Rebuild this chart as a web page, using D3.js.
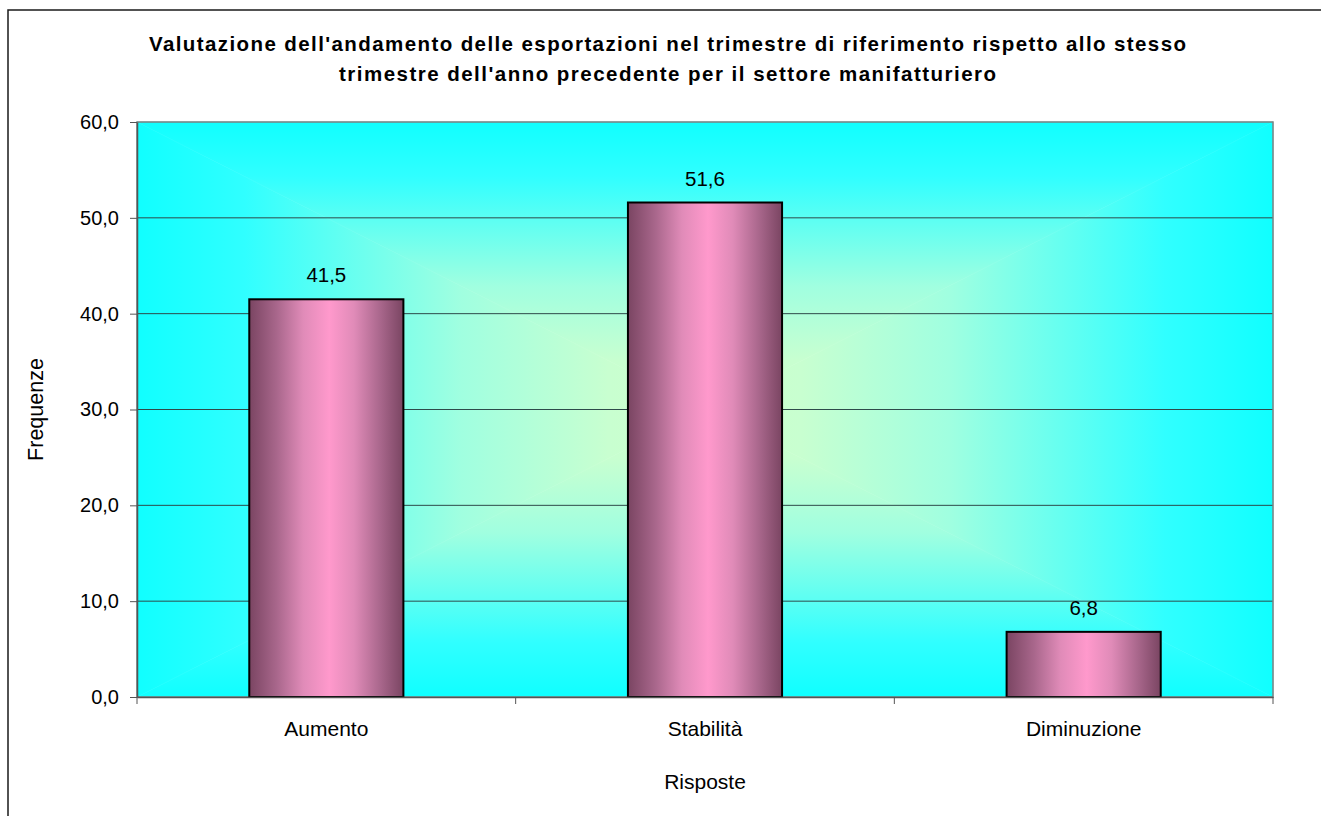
<!DOCTYPE html>
<html>
<head>
<meta charset="utf-8">
<script src="https://cdn.jsdelivr.net/npm/d3@7"></script>
<style>
  html, body { margin: 0; padding: 0; background: #fff; }
  svg { display: block; }
  text { font-family: "Liberation Sans", Arial, sans-serif; fill: #000; }
</style>
</head>
<body>
<svg id="chart" width="1321" height="816"></svg>
<script>
// ---- Data ----
const categories = ["Aumento", "Stabilità", "Diminuzione"];
const values = [41.5, 51.6, 6.8];
const yTicks = [0, 10, 20, 30, 40, 50, 60];
const titleLines = [
  "Valutazione dell'andamento delle esportazioni nel trimestre di riferimento rispetto allo stesso",
  "trimestre dell'anno precedente per il settore manifatturiero"
];
const xAxisTitle = "Risposte";
const yAxisTitle = "Frequenze";

// ---- Layout ----
const W = 1321, H = 816;
const plot = { left: 137, top: 122, right: 1273, bottom: 697 };
const svg = d3.select("#chart");

const locale = d3.formatLocale({ decimal: ",", thousands: ".", grouping: [3], currency: ["€", ""] });
const fmt = locale.format(".1f");

const x = d3.scaleBand().domain(categories).range([plot.left, plot.right]).padding(0);
const y = d3.scaleLinear().domain([0, 60]).range([plot.bottom, plot.top]);
const barW = x.bandwidth() * 0.407;

// outer chart border
svg.append("rect")
  .attr("x", 8).attr("y", 10).attr("width", W + 20).attr("height", H + 20)
  .attr("fill", "#fff").attr("stroke", "#1a1a1a").attr("stroke-width", 1.5);

const defs = svg.append("defs");

// ---- plot background: rectangular "from centre" gradient built from 4 triangles ----
const bgStops = [[0, "#10ffff"], [0.19, "#30ffff"], [0.57, "#a0ffe0"], [0.83, "#c8ffd0"], [1, "#ccffcc"]];
const cx = (plot.left + plot.right) / 2, cy = (plot.top + plot.bottom) / 2;
const tris = [
  { id: "gTop", pts: [[plot.left, plot.top], [plot.right, plot.top], [cx, cy]], g: [cx, plot.top, cx, cy] },
  { id: "gBot", pts: [[plot.left, plot.bottom], [plot.right, plot.bottom], [cx, cy]], g: [cx, plot.bottom, cx, cy] },
  { id: "gLeft", pts: [[plot.left, plot.top], [plot.left, plot.bottom], [cx, cy]], g: [plot.left, cy, cx, cy] },
  { id: "gRight", pts: [[plot.right, plot.top], [plot.right, plot.bottom], [cx, cy]], g: [plot.right, cy, cx, cy] }
];
tris.forEach(t => {
  const lg = defs.append("linearGradient").attr("id", t.id)
    .attr("gradientUnits", "userSpaceOnUse")
    .attr("x1", t.g[0]).attr("y1", t.g[1]).attr("x2", t.g[2]).attr("y2", t.g[3]);
  bgStops.forEach(([o, c]) => lg.append("stop").attr("offset", o).attr("stop-color", c));
  svg.append("polygon")
    .attr("points", t.pts.map(p => p.join(",")).join(" "))
    .attr("fill", `url(#${t.id})`)
    .attr("stroke", `url(#${t.id})`).attr("stroke-width", 0.6);
});

// bar gradient
const bg = defs.append("linearGradient").attr("id", "barGrad")
  .attr("x1", 0).attr("x2", 1).attr("y1", 0).attr("y2", 0);
[[0, "#7a4562"], [0.18, "#a9678c"], [0.35, "#e08bb8"], [0.52, "#ff99cc"], [0.68, "#e08bb8"], [0.85, "#a9678c"], [1, "#7a4562"]]
  .forEach(([o, c]) => bg.append("stop").attr("offset", o).attr("stop-color", c));

// gridlines
svg.append("g").selectAll("line").data(yTicks.filter(t => t > 0 && t < 60)).join("line")
  .attr("x1", plot.left).attr("x2", plot.right)
  .attr("y1", d => y(d)).attr("y2", d => y(d))
  .attr("stroke", "#2e4a4a").attr("stroke-width", 1);

// plot border (top/right grey)
svg.append("rect")
  .attr("x", plot.left).attr("y", plot.top)
  .attr("width", plot.right - plot.left).attr("height", plot.bottom - plot.top)
  .attr("fill", "none").attr("stroke", "#808080").attr("stroke-width", 1.5);

// bars
svg.append("g").selectAll("rect").data(categories).join("rect")
  .attr("x", d => x(d) + (x.bandwidth() - barW) / 2)
  .attr("y", (d, i) => y(values[i]))
  .attr("width", barW)
  .attr("height", (d, i) => y(0) - y(values[i]))
  .attr("fill", "url(#barGrad)")
  .attr("stroke", "#000").attr("stroke-width", 2);

// data labels
svg.append("g").selectAll("text").data(categories).join("text")
  .attr("x", d => x(d) + x.bandwidth() / 2)
  .attr("y", (d, i) => y(values[i]) - 17)
  .attr("text-anchor", "middle")
  .style("font-size", "20.5px")
  .text((d, i) => fmt(values[i]));

// y axis
const yAxis = d3.axisLeft(y).tickValues(yTicks).tickFormat(fmt).tickSize(7).tickSizeOuter(0).tickPadding(11);
const gy = svg.append("g").attr("transform", `translate(${plot.left},0)`).call(yAxis);
gy.select(".domain").attr("stroke", "#555").attr("stroke-width", 1.5);
gy.selectAll(".tick line").attr("stroke", "#555");
gy.selectAll(".tick text").style("font-size", "20px").style("font-family", "'Liberation Sans', Arial, sans-serif").attr("fill", "#000");

// x axis
const xAxis = d3.axisBottom(x).tickSize(0).tickSizeOuter(0).tickPadding(0);
const gx = svg.append("g").attr("transform", `translate(0,${plot.bottom})`).call(xAxis);
gx.select(".domain").attr("stroke", "#555").attr("stroke-width", 1.5);
gx.selectAll(".tick text").attr("dy", null).attr("y", 39)
  .style("font-size", "21px").style("font-family", "'Liberation Sans', Arial, sans-serif").attr("fill", "#000");
// x tick marks at category boundaries
const bounds = categories.map(c => x(c)).concat([x.range()[1]]);
svg.append("g").selectAll("line").data(bounds).join("line")
  .attr("x1", d => d).attr("x2", d => d)
  .attr("y1", plot.bottom).attr("y2", plot.bottom + 7)
  .attr("stroke", "#555");

// axis titles
svg.append("text")
  .attr("x", (plot.left + plot.right) / 2).attr("y", 789)
  .attr("text-anchor", "middle").style("font-size", "21px")
  .text(xAxisTitle);
svg.append("text")
  .attr("transform", `translate(43,${(plot.top + plot.bottom) / 2}) rotate(-90)`)
  .attr("text-anchor", "middle").style("font-size", "21.5px")
  .text(yAxisTitle);

// title
const titleSpans = [
  { text: titleLines[0], x0: 149, x1: 1186, y: 51 },
  { text: titleLines[1], x0: 339, x1: 996, y: 81 }
];
svg.append("g").selectAll("text").data(titleSpans).join("text")
  .attr("x", d => d.x0).attr("y", d => d.y)
  .attr("textLength", d => d.x1 - d.x0).attr("lengthAdjust", "spacing")
  .style("font-size", "20.5px").style("font-weight", "bold")
  .text(d => d.text);
</script>
</body>
</html>
